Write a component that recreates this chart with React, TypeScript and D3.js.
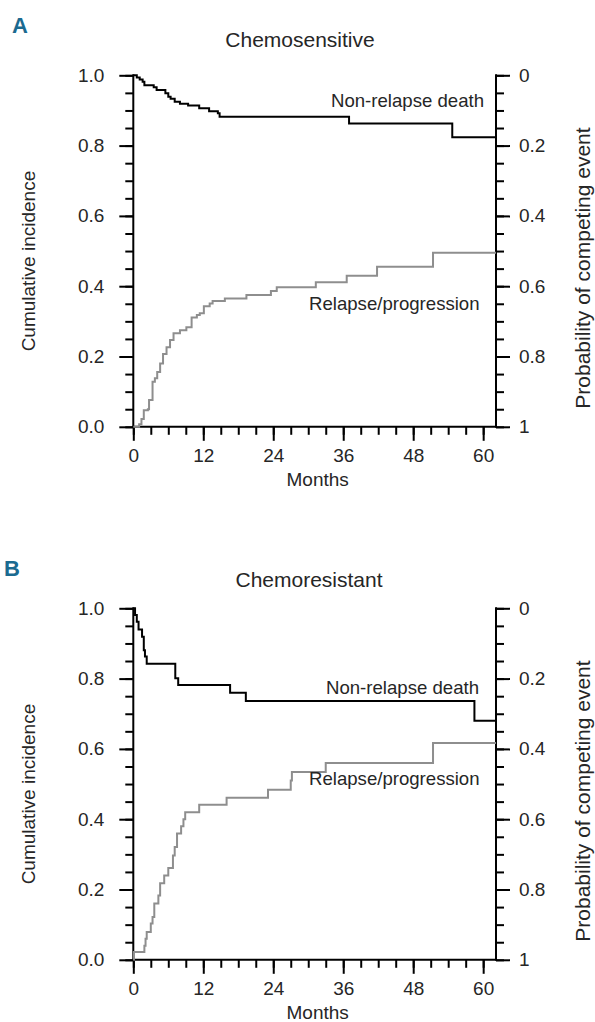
import React, { useEffect, useRef } from 'react';
import * as d3 from 'd3';

// x axis (months) and y axis tick values
const monthTicks = [0, 12, 24, 36, 48, 60];
const incidenceTicks = [0, 0.2, 0.4, 0.6, 0.8, 1.0];
const competingTicks = [0, 0.2, 0.4, 0.6, 0.8, 1];

// A: chemosensitive, non-relapse death (cumulative incidence, read against the right axis)
const sensNrmMonths = [0.6, 1.1, 1.6, 1.9, 3.5, 4.0, 5.5, 6.0, 6.4, 7.1, 8.0, 9.4, 11.3, 13.0, 14.5, 14.8, 37.0, 54.7];
const sensNrmInc = [0.006, 0.012, 0.018, 0.028, 0.034, 0.042, 0.051, 0.061, 0.067, 0.075, 0.081, 0.086, 0.094, 0.102, 0.108, 0.118, 0.137, 0.176];

// A: chemosensitive, relapse/progression
const sensRelMonths = [1.0, 1.4, 1.8, 2.5, 2.7, 3.3, 3.7, 4.1, 4.6, 5.1, 5.7, 6.3, 6.9, 8.0, 9.1, 10.0, 10.9, 11.4, 12.1, 13.1, 13.6, 15.7, 19.4, 23.6, 24.6, 31.3, 36.6, 41.8, 51.4];
const sensRelInc = [0.007, 0.022, 0.047, 0.05, 0.076, 0.128, 0.138, 0.156, 0.18, 0.207, 0.226, 0.247, 0.266, 0.275, 0.283, 0.311, 0.318, 0.323, 0.343, 0.351, 0.358, 0.365, 0.375, 0.386, 0.397, 0.411, 0.43, 0.455, 0.495];

// B: chemoresistant, non-relapse death
const resNrmMonths = [0.3, 0.6, 0.9, 1.5, 1.8, 2.0, 2.3, 7.2, 7.7, 16.6, 19.3, 58.5];
const resNrmInc = [0.019, 0.038, 0.06, 0.081, 0.119, 0.137, 0.158, 0.199, 0.218, 0.24, 0.264, 0.32];

// B: chemoresistant, relapse/progression
const resRelMonths = [0.1, 1.9, 2.1, 2.3, 3.0, 3.3, 3.6, 4.3, 4.6, 5.3, 6.0, 6.8, 7.1, 7.5, 8.2, 8.6, 8.9, 11.3, 16.0, 23.1, 27.0, 27.2, 33.0, 51.4];
const resRelInc = [0.022, 0.04, 0.06, 0.079, 0.103, 0.122, 0.16, 0.183, 0.218, 0.24, 0.261, 0.297, 0.321, 0.359, 0.38, 0.4, 0.42, 0.441, 0.461, 0.484, 0.51, 0.534, 0.56, 0.617];

const FONT = '"Liberation Sans", Arial, sans-serif';
const TEXT = '#262626';
const X_MAX = 62.2;

const steps = (months: number[], inc: number[]): [number, number][] => [
    [0, 0],
    ...months.map((m, i) => [m, inc[i]] as [number, number]),
    [X_MAX, inc[inc.length - 1]],
];

const App = () => {
    const svgRef = useRef<SVGSVGElement>(null);

    useEffect(() => {
        const svg = d3.select(svgRef.current);
        svg.selectAll('*').remove();

        const left = 133.3;
        const right = 496;

        const drawPanel = (cfg: any) => {
            const { top, bottom } = cfg;
            const g = svg.append('g').style('font-family', FONT);

            const x = d3.scaleLinear().domain([0, X_MAX]).range([left, right]);
            const y = d3.scaleLinear().domain([0, 1]).range([bottom, top]);
            const yComp = d3.scaleLinear().domain([0, 1]).range([top, bottom]);

            const styleAxis = (sel: any) => {
                sel.select('.domain').remove();
                sel.selectAll('line').attr('stroke', '#000').attr('stroke-width', 2);
                sel.selectAll('text')
                    .attr('fill', TEXT)
                    .style('font-size', '19px')
                    .style('font-family', FONT);
            };

            // minor ticks
            g.append('g')
                .attr('transform', `translate(0,${bottom})`)
                .call(d3.axisBottom(x).tickValues(d3.range(0, 61, 3)).tickSize(8).tickFormat(() => ''))
                .call(styleAxis);
            g.append('g')
                .attr('transform', `translate(${left},0)`)
                .call(d3.axisLeft(y).tickValues(d3.range(0, 1.001, 0.05)).tickSize(8).tickFormat(() => ''))
                .call(styleAxis);
            g.append('g')
                .attr('transform', `translate(${right},0)`)
                .call(d3.axisRight(yComp).tickValues(d3.range(0, 1.001, 0.05)).tickSize(8).tickFormat(() => ''))
                .call(styleAxis);

            // major ticks + labels
            g.append('g')
                .attr('transform', `translate(0,${bottom})`)
                .call(d3.axisBottom(x).tickValues(monthTicks).tickSize(14).tickPadding(8))
                .call(styleAxis);
            g.append('g')
                .attr('transform', `translate(${left},0)`)
                .call(d3.axisLeft(y).tickValues(incidenceTicks).tickSize(14).tickPadding(15).tickFormat(d3.format('.1f')))
                .call(styleAxis);
            g.append('g')
                .attr('transform', `translate(${right},0)`)
                .call(d3.axisRight(yComp).tickValues(competingTicks).tickSize(14).tickPadding(9)
                    .tickFormat((d: any) => (d === 0 || d === 1 ? String(d) : d3.format('.1f')(d))))
                .call(styleAxis);

            // axis lines
            const axisLines = [
                [left, bottom, right, bottom],
                [left, top, left, bottom],
                [right, top, right, bottom],
            ];
            g.selectAll('line.axis')
                .data(axisLines)
                .enter()
                .append('line')
                .attr('x1', (d) => d[0]).attr('y1', (d) => d[1])
                .attr('x2', (d) => d[2]).attr('y2', (d) => d[3])
                .attr('stroke', '#000')
                .attr('stroke-width', 2)
                .attr('stroke-linecap', 'square');

            // curves
            const relLine = d3.line<[number, number]>()
                .x((d) => x(d[0]))
                .y((d) => y(d[1]))
                .curve(d3.curveStepAfter);
            const nrmLine = d3.line<[number, number]>()
                .x((d) => x(d[0]))
                .y((d) => yComp(d[1]))
                .curve(d3.curveStepAfter);

            g.append('path')
                .attr('d', relLine(steps(cfg.relMonths, cfg.relInc)))
                .attr('fill', 'none')
                .attr('stroke', '#8e8e8e')
                .attr('stroke-width', 2);
            g.append('path')
                .attr('d', nrmLine(steps(cfg.nrmMonths, cfg.nrmInc)))
                .attr('fill', 'none')
                .attr('stroke', '#000')
                .attr('stroke-width', 2);

            // texts
            g.append('text')
                .attr('x', cfg.letterX).attr('y', cfg.letterY)
                .text(cfg.letter)
                .attr('fill', '#1b6a90')
                .style('font-weight', 'bold')
                .style('font-size', '22px');
            g.append('text')
                .attr('x', cfg.titleX).attr('y', cfg.titleY)
                .attr('text-anchor', 'middle')
                .attr('fill', TEXT)
                .style('font-size', '21px')
                .text(cfg.title);
            g.append('text')
                .attr('x', cfg.nrmLabel[0]).attr('y', cfg.nrmLabel[1])
                .attr('fill', TEXT)
                .style('font-size', '18.6px')
                .text('Non-relapse death');
            g.append('text')
                .attr('x', cfg.relLabel[0]).attr('y', cfg.relLabel[1])
                .attr('fill', TEXT)
                .style('font-size', '18.6px')
                .text('Relapse/progression');
            g.append('text')
                .attr('x', (left + right) / 2 + 3).attr('y', bottom + 59)
                .attr('text-anchor', 'middle')
                .attr('fill', TEXT)
                .style('font-size', '19px')
                .text('Months');
            const mid = (top + bottom) / 2;
            g.append('text')
                .attr('transform', `translate(35,${mid + 10}) rotate(-90)`)
                .attr('text-anchor', 'middle')
                .attr('fill', TEXT)
                .style('font-size', '19px')
                .text('Cumulative incidence');
            g.append('text')
                .attr('transform', `translate(590,${mid + 17}) rotate(-90)`)
                .attr('text-anchor', 'middle')
                .attr('fill', TEXT)
                .style('font-size', '21px')
                .text('Probability of competing event');
        };

        drawPanel({
            top: 75.3, bottom: 426.8,
            letter: 'A', letterX: 12, letterY: 33,
            title: 'Chemosensitive', titleX: 300, titleY: 47,
            nrmMonths: sensNrmMonths, nrmInc: sensNrmInc,
            relMonths: sensRelMonths, relInc: sensRelInc,
            nrmLabel: [331, 107], relLabel: [309, 310],
        });
        drawPanel({
            top: 608.3, bottom: 959.8,
            letter: 'B', letterX: 4, letterY: 576,
            title: 'Chemoresistant', titleX: 309, titleY: 587,
            nrmMonths: resNrmMonths, nrmInc: resNrmInc,
            relMonths: resRelMonths, relInc: resRelInc,
            nrmLabel: [326, 694], relLabel: [309, 785],
        });
    }, []);

    return (
        <svg
            ref={svgRef}
            width={595}
            height={1022}
            style={{ position: 'absolute', left: 0, top: 0, background: '#fff' }}
        />
    );
};

export default App;
